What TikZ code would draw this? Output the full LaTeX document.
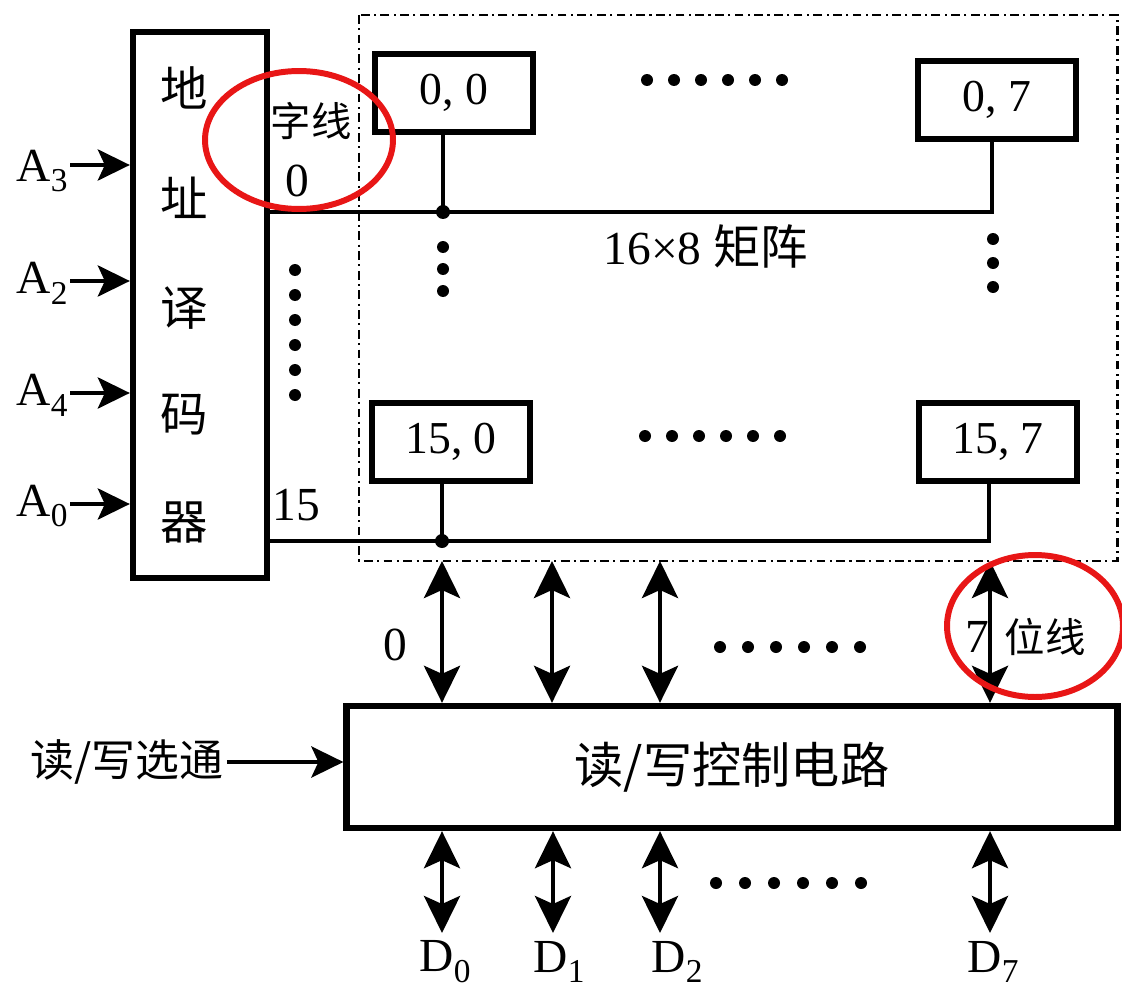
\documentclass[tikz,border=0pt]{standalone}
\usepackage{fontspec}
\setmainfont{Liberation Serif}
\newfontfamily\cjk{Noto Sans CJK SC}
\usetikzlibrary{arrows.meta}
\definecolor{markred}{RGB}{232,22,22}
\newcommand\mysub[1]{\raisebox{-0.5ex}{\fontsize{19}{20}\selectfont #1}}
\begin{document}
\begin{tikzpicture}[x=0.02cm,y=-0.02cm,
  txt/.style={font=\fontsize{27}{30}\selectfont, inner sep=0pt},
  cjktxt/.style={font=\cjk\fontsize{27}{30}\selectfont, inner sep=0pt},
  smallcjk/.style={font=\cjk\fontsize{23}{25}\selectfont, inner sep=0pt},
  thickbox/.style={draw, line width=3.6pt, inner sep=0pt},
  cell/.style={thickbox, minimum width=3.16cm, minimum height=1.56cm, font=\fontsize{26}{28}\selectfont},
  wire/.style={line width=2.8pt},
  bi/.style={line width=2.6pt, {Stealth[length=0.74cm,width=0.72cm,inset=0.16cm]}-{Stealth[length=0.74cm,width=0.72cm,inset=0.16cm]}},
  inarr/.style={line width=2.6pt, -{Stealth[length=0.64cm,width=0.62cm,inset=0.14cm]}},
  frameline/.style={line width=1.7pt, dash pattern=on 5pt off 2.5pt on 1.2pt off 2.5pt},
  redmark/.style={draw=markred, line width=3.4pt},
]
\useasboundingbox (0,0) rectangle (1122,990);

% dotted matrix frame
\draw[frameline] (359,15) rectangle (1117,561);

% decoder
\node[thickbox, minimum width=2.68cm, minimum height=10.92cm] (dec) at (200,305) {};
\node[cjktxt] (d1) at (184,88) {地};
\node[cjktxt] (d2) at (184,198) {址};
\node[cjktxt] (d3) at (184,308) {译};
\node[cjktxt] (d4) at (184,415) {码};
\node[cjktxt] (d5) at (184,523) {器};

% address inputs
\node[txt, anchor=east] (la3) at (68,171) {A\mysub{3}};
\node[txt, anchor=east] (la2) at (68,283) {A\mysub{2}};
\node[txt, anchor=east] (la4) at (68,395) {A\mysub{4}};
\node[txt, anchor=east] (la0) at (68,506) {A\mysub{0}};
\coordinate (a3) at (70,165);
\coordinate (a2) at (70,281);
\coordinate (a4) at (70,393);
\coordinate (a0) at (70,504);
\draw[inarr] (a3) -- (a3 -| dec.west);
\draw[inarr] (a2) -- (a2 -| dec.west);
\draw[inarr] (a4) -- (a4 -| dec.west);
\draw[inarr] (a0) -- (a0 -| dec.west);

% word line labels
\node[smallcjk] (zx) at (311,121) {字线};
\node[txt] (w0) at (297,181) {0};
\node[txt] (w15) at (296,505) {15};
\foreach \yy in {270,295,320,345,370,395} \fill (295,\yy) circle[radius=0.12cm];

% cells
\node[cell] (c00) at (454,93) {0, 0};
\node[cell] (c07) at (997,100) {0, 7};
\node[cell] (c150) at (451,442) {15, 0};
\node[cell] (c157) at (998,442) {15, 7};

% word lines
\coordinate (j00) at (443,212);
\coordinate (j07) at (992,212);
\coordinate (j150) at (442,541);
\coordinate (j157) at (989,541);
\draw[wire] (dec.east |- j00) -- (j07) -- (j07 |- c07.south);
\draw[wire] (j00 |- c00.south) -- (j00);
\draw[wire] (dec.east |- j150) -- (j157) -- (j157 |- c157.south);
\draw[wire] (j150 |- c150.south) -- (j150);
\fill (j00) circle[radius=0.14cm];
\fill (j150) circle[radius=0.14cm];

% dots in matrix
\foreach \xx in {647,674,701,728,755,782} \fill (\xx,80) circle[radius=0.12cm];
\foreach \xx in {645,672,699,726,753,780} \fill (\xx,436) circle[radius=0.12cm];
\foreach \yy in {247,269,291} \fill (443,\yy) circle[radius=0.12cm];
\foreach \yy in {239,263,287} \fill (993,\yy) circle[radius=0.12cm];
\node[txt] (mx) at (706,246) {16×8 {\cjk 矩阵}};

% read/write control circuit
\node[thickbox, minimum width=15.42cm, minimum height=2.44cm, font=\cjk\fontsize{28}{30}\selectfont] (rw) at (732,767) {读/写控制电路};
\node[font=\cjk\fontsize{25}{27}\selectfont, inner sep=0pt] (rws) at (127,762) {读/写选通};
\draw[inarr] (rws.east) ++(3,0) coordinate (rwsa) -- (rwsa -| rw.west);

% bit lines
\coordinate (b0) at (442,561);
\coordinate (b1) at (552,561);
\coordinate (b2) at (660,561);
\coordinate (b7) at (990,561);
\draw[bi] (b0) -- (b0 |- rw.north);
\draw[bi] (b1) -- (b1 |- rw.north);
\draw[bi] (b2) -- (b2 |- rw.north);
\draw[bi] (b7) -- (b7 |- rw.north);
\node[txt] (bl0) at (395,645) {0};
\node[txt] (bl7) at (977,637) {7};
\node[smallcjk] (wx) at (1045,637) {位线};
\foreach \xx in {720,748,776,804,832,860} \fill (\xx,647) circle[radius=0.12cm];

% data lines
\coordinate (e0) at (442,933);
\coordinate (e1) at (553,933);
\coordinate (e2) at (660,933);
\coordinate (e7) at (990,933);
\draw[bi] (e0 |- rw.south) -- (e0);
\draw[bi] (e1 |- rw.south) -- (e1);
\draw[bi] (e2 |- rw.south) -- (e2);
\draw[bi] (e7 |- rw.south) -- (e7);
\node[txt] (D0) at (445,962) {D\mysub{0}};
\node[txt] (D1) at (559,962) {D\mysub{1}};
\node[txt] (D2) at (677,962) {D\mysub{2}};
\node[txt] (D7) at (993,962) {D\mysub{7}};
\foreach \xx in {716,745,774,803,832,861} \fill (\xx,883) circle[radius=0.12cm];

% red marks
\draw[redmark] (299,140) ellipse [x radius=1.88cm, y radius=1.38cm];
\draw[redmark] (1035,626) ellipse [x radius=1.76cm, y radius=1.42cm];
\end{tikzpicture}
\end{document}
